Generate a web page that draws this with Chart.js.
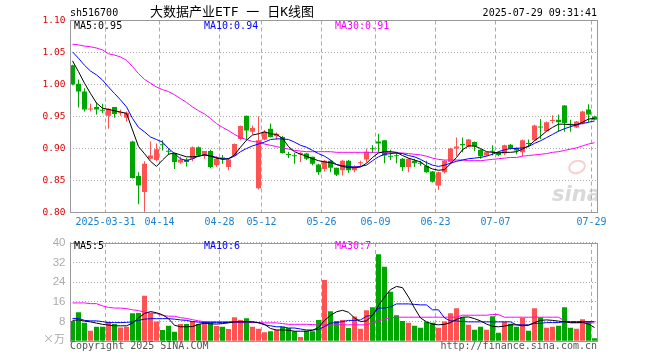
<!DOCTYPE html>
<html>
<head>
<meta charset="utf-8">
<script src="https://cdn.jsdelivr.net/npm/chart.js@4/dist/chart.umd.min.js"></script>
<style>
html, body { margin: 0; padding: 0; background: #fff; }
#wrap { position: relative; width: 660px; height: 360px; }
#kChart { position: absolute; left: 0; top: 0; }
#volChart { position: absolute; left: 0; top: 232px; }
</style>
</head>
<body>
<div id="wrap">
    <canvas id="kChart" width="660" height="232"></canvas>
    <canvas id="volChart" width="660" height="128"></canvas>
</div>
<script>
// ================= DATA =================
const year = "2025";
const dates = [
    "03-21","03-24","03-25","03-26","03-27","03-28","03-31",
    "04-01","04-02","04-03","04-07","04-08","04-09","04-10","04-11","04-14","04-15","04-16","04-17","04-18",
    "04-21","04-22","04-23","04-24","04-25","04-28","04-29","04-30",
    "05-06","05-07","05-08","05-09","05-12","05-13","05-14","05-15","05-16","05-19","05-20","05-21","05-22","05-23",
    "05-26","05-27","05-28","05-29","05-30",
    "06-03","06-04","06-05","06-06","06-09","06-10","06-11","06-12","06-13","06-16","06-17","06-18","06-19","06-20",
    "06-23","06-24","06-25","06-26","06-27","06-30",
    "07-01","07-02","07-03","07-04","07-07","07-08","07-09","07-10","07-11","07-14","07-15","07-16","07-17","07-18",
    "07-21","07-22","07-23","07-24","07-25","07-28","07-29"
];
const tickDates = ["03-31","04-14","04-28","05-12","05-26","06-09","06-23","07-07","07-29"];
const priceTicks = [0.80, 0.85, 0.90, 0.95, 1.00, 1.05, 1.10];
const volTicks = [0, 8, 16, 24, 32, 40];

const open = [
    1.030,1.001,0.989,0.961,0.965,0.960,0.951,0.965,0.955,0.948,
    0.911,0.857,0.832,0.884,0.882,0.906,0.896,0.892,0.878,0.883,
    0.884,0.902,0.890,0.896,0.874,0.886,0.871,0.889,0.915,0.951,
    0.926,0.838,0.914,0.931,0.919,0.918,0.891,0.889,0.891,0.892,
    0.887,0.875,0.868,0.881,0.870,0.866,0.881,0.866,0.877,0.883,
    0.900,0.911,0.913,0.888,0.889,0.884,0.871,0.881,0.877,0.873,
    0.864,0.842,0.863,0.879,0.900,0.907,0.903,0.910,0.898,0.889,
    0.896,0.894,0.892,0.906,0.901,0.894,0.908,0.913,0.934,0.927,
    0.943,0.945,0.967,0.938,0.933,0.940,0.961,0.950
];
const high = [
    1.031,1.008,0.994,0.970,0.972,0.970,0.963,0.965,0.961,0.958,
    0.912,0.863,0.880,0.911,0.908,0.913,0.900,0.893,0.887,0.885,
    0.903,0.903,0.896,0.898,0.888,0.890,0.884,0.908,0.936,0.951,
    0.936,0.950,0.929,0.939,0.925,0.920,0.895,0.893,0.895,0.893,
    0.887,0.876,0.882,0.882,0.870,0.882,0.882,0.874,0.881,0.900,
    0.905,0.923,0.913,0.898,0.893,0.885,0.885,0.884,0.881,0.881,
    0.865,0.864,0.882,0.901,0.917,0.917,0.915,0.911,0.899,0.895,
    0.905,0.895,0.906,0.907,0.902,0.914,0.914,0.937,0.946,0.942,
    0.952,0.953,0.968,0.945,0.943,0.959,0.969,0.951
];
const low = [
    0.999,0.964,0.958,0.958,0.953,0.955,0.931,0.948,0.951,0.942,
    0.853,0.813,0.801,0.883,0.880,0.897,0.890,0.868,0.876,0.872,
    0.880,0.887,0.884,0.869,0.871,0.876,0.866,0.888,0.913,0.913,
    0.922,0.836,0.913,0.917,0.914,0.892,0.885,0.876,0.879,0.882,
    0.874,0.859,0.864,0.863,0.857,0.858,0.862,0.863,0.872,0.878,
    0.893,0.894,0.877,0.882,0.877,0.865,0.863,0.871,0.873,0.862,
    0.847,0.835,0.861,0.877,0.888,0.894,0.902,0.896,0.884,0.888,
    0.889,0.888,0.890,0.898,0.891,0.888,0.902,0.912,0.915,0.926,
    0.939,0.926,0.926,0.926,0.932,0.938,0.941,0.944
];
const close = [
    1.000,0.989,0.961,0.962,0.961,0.959,0.962,0.954,0.956,0.956,
    0.854,0.842,0.876,0.889,0.899,0.905,0.895,0.879,0.883,0.879,
    0.902,0.889,0.896,0.871,0.884,0.884,0.883,0.907,0.935,0.928,
    0.932,0.913,0.926,0.918,0.923,0.893,0.890,0.888,0.893,0.884,
    0.876,0.863,0.881,0.870,0.859,0.881,0.866,0.872,0.878,0.895,
    0.899,0.908,0.889,0.887,0.888,0.871,0.884,0.877,0.876,0.863,
    0.848,0.863,0.881,0.900,0.903,0.905,0.914,0.903,0.888,0.894,
    0.895,0.890,0.905,0.900,0.897,0.913,0.907,0.936,0.933,0.941,
    0.944,0.941,0.940,0.937,0.942,0.958,0.953,0.945
];

const ma5 = [
    1.037,1.020,1.002,0.986,0.971,0.963,0.961,0.959,0.957,0.955,
    0.929,0.903,0.892,0.880,0.872,0.882,0.891,0.893,0.890,0.887,
    0.887,0.888,0.890,0.888,0.885,0.883,0.884,0.890,0.902,0.913,
    0.921,0.923,0.926,0.923,0.922,0.916,0.903,0.895,0.891,0.888,
    0.884,0.881,0.879,0.878,0.875,0.872,0.870,0.870,0.871,0.877,
    0.886,0.893,0.895,0.895,0.894,0.889,0.885,0.882,0.879,0.872,
    0.868,0.866,0.867,0.876,0.886,0.898,0.904,0.904,0.900,0.895,
    0.894,0.893,0.894,0.894,0.895,0.899,0.904,0.912,0.919,0.927,
    0.933,0.938,0.938,0.937,0.937,0.941,0.946,0.947
];
const ma10 = [
    1.051,1.041,1.030,1.021,1.015,1.007,0.996,0.986,0.976,0.965,
    0.947,0.933,0.926,0.918,0.914,0.910,0.900,0.892,0.884,0.881,
    0.884,0.888,0.890,0.889,0.886,0.884,0.884,0.888,0.895,0.900,
    0.904,0.907,0.910,0.914,0.915,0.915,0.914,0.910,0.905,0.902,
    0.897,0.892,0.888,0.882,0.875,0.873,0.872,0.871,0.872,0.874,
    0.881,0.887,0.891,0.892,0.893,0.892,0.889,0.887,0.883,0.878,
    0.874,0.872,0.874,0.877,0.880,0.882,0.884,0.885,0.886,0.888,
    0.891,0.895,0.898,0.900,0.900,0.901,0.903,0.908,0.912,0.917,
    0.922,0.927,0.931,0.934,0.937,0.939,0.941,0.943
];
const ma30 = [
    1.063,1.062,1.060,1.059,1.057,1.054,1.048,1.046,1.043,1.038,
    1.028,1.017,1.008,1.002,0.996,0.992,0.989,0.984,0.978,0.972,
    0.965,0.959,0.954,0.947,0.939,0.933,0.928,0.922,0.917,0.914,
    0.911,0.910,0.907,0.905,0.903,0.901,0.899,0.897,0.896,0.895,
    0.895,0.895,0.895,0.895,0.894,0.894,0.894,0.894,0.894,0.894,
    0.894,0.894,0.894,0.893,0.893,0.893,0.892,0.891,0.890,0.888,
    0.885,0.883,0.882,0.882,0.882,0.882,0.881,0.881,0.881,0.882,
    0.883,0.884,0.885,0.886,0.886,0.888,0.889,0.890,0.891,0.892,
    0.894,0.895,0.897,0.899,0.901,0.904,0.907,0.909
];

const volume = [
    8.3,11.8,7.5,4.3,5.9,5.9,7.9,7.0,5.6,5.9,
    11.4,11.5,18.5,11.5,8.0,4.6,6.3,3.9,7.0,7.0,
    8.3,7.0,8.3,7.6,6.2,5.9,5.0,9.8,8.7,9.4,
    5.9,5.1,3.7,4.1,4.6,5.9,5.4,4.1,1.7,4.3,
    4.1,8.7,24.9,12.2,8.3,8.7,5.4,10.1,5.1,12.6,
    13.8,35.4,30.3,20.1,10.6,8.3,7.5,6.3,5.5,7.9,
    7.5,5.5,8.0,11.4,13.4,9.8,6.7,4.7,5.9,4.7,
    10.2,3.5,7.9,7.1,5.9,9.6,4.3,13.4,9.8,5.5,
    5.9,6.3,13.8,5.5,5.1,9.0,8.3,1.2
];
const volMa5 = [
    8.5,8.7,8.2,7.9,7.4,6.9,6.6,6.3,6.3,6.3,
    7.4,9.5,11.3,12.1,11.6,10.8,9.2,6.5,5.9,5.9,
    6.0,6.9,7.3,7.1,7.0,7.2,7.5,7.9,7.9,7.9,
    7.9,7.6,6.9,5.2,4.6,4.6,4.5,4.1,4.1,4.1,
    4.5,5.6,8.5,10.5,12.0,12.6,11.8,9.5,8.0,8.3,
    10.5,14.5,18.0,21.0,22.3,21.8,18.0,13.5,9.5,7.9,
    7.0,6.7,6.9,7.6,8.9,9.8,9.9,9.2,8.3,7.0,
    6.1,5.9,6.2,6.7,6.7,6.3,6.5,7.6,8.5,8.7,
    8.5,8.2,7.9,7.6,7.6,7.7,7.0,5.6
];
const volMa10 = [
    9.3,9.3,8.5,8.3,8.3,8.0,7.6,7.6,7.6,7.7,
    7.9,8.5,9.0,9.2,9.2,9.2,9.2,9.0,8.7,8.5,
    8.0,7.8,7.6,7.6,7.6,7.6,7.7,7.9,7.9,7.9,
    7.9,7.5,6.7,6.3,5.9,5.9,5.4,5.4,5.0,4.6,
    4.6,4.8,6.0,7.4,7.6,8.0,8.5,8.5,8.7,10.2,
    10.5,13.5,13.5,14.0,15.2,15.2,15.2,15.0,14.8,14.8,
    12.8,12.8,9.5,8.3,8.3,8.0,7.9,7.9,7.9,7.9,
    7.9,7.9,7.9,7.9,6.7,6.7,6.7,7.3,7.3,7.6,
    7.6,7.6,8.0,8.0,8.0,8.0,8.0,8.0
];
const volMa30 = [
    15.6,15.6,15.6,15.3,15.3,14.4,13.8,13.5,13.5,13.3,
    12.8,12.5,11.8,11.5,11.3,10.5,10.2,10.2,9.6,9.3,
    8.8,8.3,8.0,8.0,8.0,8.0,8.0,7.8,7.6,7.6,
    7.6,7.6,7.5,7.5,7.5,7.2,6.9,6.9,6.9,6.9,
    6.8,6.6,6.6,6.6,6.7,6.7,6.7,6.7,6.7,6.7,
    7.5,8.3,9.0,9.6,9.8,9.8,9.8,9.8,9.8,9.8,
    9.8,9.8,9.8,9.8,9.8,10.6,10.6,10.6,10.6,10.6,
    10.9,10.9,9.8,9.8,9.8,9.8,9.8,9.8,9.8,9.8,
    9.8,9.8,8.3,7.5,7.5,7.5,7.5,7.5
];

// ================= STYLE =================
const RED = "#ff5252";
const GREEN = "#00a600";
const MA_COLORS = ["#000000", "#0000ff", "#ff00ff"];
const MONO = "'DejaVu Sans Mono', monospace";
const GRID = "#aaaaaa";

const candleColors = open.map((o, i) => (close[i] >= o ? RED : GREEN));

function dateGridColor(ctx) {
    return tickDates.includes(dates[ctx.index]) ? GRID : "rgba(0,0,0,0)";
}

function maLine(label, data, color) {
    return {
        type: "line",
        label: label,
        data: data,
        borderColor: color,
        borderWidth: 1,
        pointRadius: 0,
        tension: 0,
        order: 0
    };
}

function drawFrame(chart) {
    const { ctx, chartArea: a } = chart;
    ctx.save();
    ctx.strokeStyle = "#999";
    ctx.lineWidth = 1;
    const l = Math.ceil(a.left) + 0.5;
    const t = Math.round(a.top - 0.01) + 0.5;
    const r = Math.floor(a.right) + 0.5;
    const b = Math.floor(a.bottom) + 0.5;
    ctx.strokeRect(l, t, r - l, b - t);
    ctx.restore();
}

function drawLegend(ctx, y, texts) {
    const xs = [74, 204, 335];
    ctx.font = "10px " + MONO;
    ctx.textBaseline = "middle";
    ctx.textAlign = "left";
    texts.forEach((t, i) => {
        ctx.fillStyle = MA_COLORS[i];
        ctx.fillText(t, xs[i], y);
    });
}

// ================= K-LINE CHART =================
const mainDecor = {
    id: "mainDecor",
    beforeDatasetsDraw(chart) {
        // faint sina watermark
        const { ctx, chartArea: a } = chart;
        ctx.save();
        ctx.beginPath();
        ctx.rect(a.left, a.top, a.right - a.left, a.bottom - a.top);
        ctx.clip();
        ctx.strokeStyle = "rgba(235,120,120,0.35)";
        ctx.lineWidth = 2;
        ctx.beginPath();
        ctx.ellipse(577, 167, 8, 6, -0.3, 0, Math.PI * 2);
        ctx.stroke();
        ctx.font = "italic bold 21px 'DejaVu Sans'";
        ctx.fillStyle = "rgba(185,185,185,0.55)";
        ctx.fillText("sina", 552, 201);
        ctx.restore();
    },
    afterDraw(chart) {
        const ctx = chart.ctx;
        drawFrame(chart);
        ctx.save();
        ctx.fillStyle = "#000";
        ctx.textBaseline = "middle";
        ctx.font = "10px " + MONO;
        ctx.fillText("sh516700", 70, 13);
        ctx.font = "13px 'DejaVu Sans Mono', 'Noto Sans CJK SC'";
        ctx.fillText("大数据产业ETF 一 日K线图", 150, 13);
        ctx.font = "10px " + MONO;
        ctx.textAlign = "right";
        ctx.fillText("2025-07-29 09:31:41", 597, 13);
        drawLegend(ctx, 26, ["MA5:0.95", "MA10:0.94", "MA30:0.91"]);
        ctx.restore();
    }
};

new Chart(document.getElementById("kChart"), {
    type: "bar",
    data: {
        labels: dates,
        datasets: [
            maLine("MA5", ma5, MA_COLORS[0]),
            maLine("MA10", ma10, MA_COLORS[1]),
            maLine("MA30", ma30, MA_COLORS[2]),
            {
                label: "body",
                data: open.map((o, i) => [o, close[i]]),
                backgroundColor: candleColors,
                barThickness: 5,
                minBarLength: 1,
                inflateAmount: 0,
                grouped: false,
                order: 1
            },
            {
                label: "wick",
                data: low.map((l, i) => [l, high[i]]),
                backgroundColor: candleColors,
                barThickness: 1,
                inflateAmount: 0,
                grouped: false,
                order: 2
            }
        ]
    },
    options: {
        responsive: false,
        animation: false,
        events: [],
        layout: { padding: { top: 20.5, right: 62.5, left: 0, bottom: 0 } },
        plugins: { legend: { display: false }, tooltip: { enabled: false } },
        scales: {
            x: {
                offset: true,
                grid: { offset: true, color: dateGridColor, drawTicks: false },
                border: { display: false, dash: [4, 3] },
                ticks: {
                    autoSkip: false,
                    maxRotation: 0,
                    minRotation: 0,
                    padding: 4,
                    labelOffset: -3,
                    color: "#1a82d2",
                    font: { family: MONO, size: 10 },
                    callback: function (value, index) {
                        const d = dates[index];
                        if (!tickDates.includes(d)) return "";
                        return d === tickDates[0] ? year + "-" + d : d;
                    }
                },
                afterFit: (s) => { s.height = 19.5; }
            },
            y: {
                min: priceTicks[0],
                max: priceTicks[priceTicks.length - 1],
                afterBuildTicks: (s) => { s.ticks = priceTicks.map((v) => ({ value: v })); },
                grid: { color: GRID, drawTicks: false },
                border: { display: false, dash: [1, 2] },
                ticks: {
                    padding: 4,
                    color: "#e00000",
                    font: { family: MONO, size: 9.5 },
                    callback: (v) => Number(v).toFixed(2)
                },
                afterFit: (s) => { s.width = 69.5; }
            }
        }
    },
    plugins: [mainDecor]
});

// ================= VOLUME CHART =================
const volDecor = {
    id: "volDecor",
    afterDraw(chart) {
        const ctx = chart.ctx;
        drawFrame(chart);
        ctx.save();
        drawLegend(ctx, 14, ["MA5:5", "MA10:6", "MA30:7"]);
        ctx.fillStyle = "#aaa";
        ctx.textAlign = "right";
        ctx.font = "11px 'Noto Sans CJK SC'";
        ctx.fillText("×万", 65, 107);
        ctx.fillStyle = "#555";
        ctx.font = "10px " + MONO;
        ctx.textAlign = "left";
        ctx.fillText("Copyright 2025 SINA.COM", 70, 114);
        ctx.textAlign = "right";
        ctx.fillText("http://finance.sina.com.cn", 597, 114);
        ctx.restore();
    }
};

new Chart(document.getElementById("volChart"), {
    type: "bar",
    data: {
        labels: dates,
        datasets: [
            maLine("MA5", volMa5, MA_COLORS[0]),
            maLine("MA10", volMa10, MA_COLORS[1]),
            maLine("MA30", volMa30, MA_COLORS[2]),
            {
                label: "volume",
                data: volume,
                backgroundColor: candleColors,
                barThickness: 5,
                inflateAmount: 0,
                grouped: false,
                order: 1
            }
        ]
    },
    options: {
        responsive: false,
        animation: false,
        events: [],
        layout: { padding: { top: 7.7, right: 62.5, left: 0, bottom: 0 } },
        plugins: { legend: { display: false }, tooltip: { enabled: false } },
        scales: {
            x: {
                offset: true,
                grid: { offset: true, color: dateGridColor, drawTicks: false },
                border: { display: false, dash: [4, 3] },
                ticks: { display: false },
                afterFit: (s) => { s.height = 18.7; }
            },
            y: {
                min: volTicks[0],
                max: volTicks[volTicks.length - 1],
                afterBuildTicks: (s) => { s.ticks = volTicks.map((v) => ({ value: v })); },
                grid: { color: GRID, drawTicks: false },
                border: { display: false, dash: [1, 2] },
                ticks: {
                    padding: 4,
                    color: "#aaaaaa",
                    font: { family: "'Liberation Sans', sans-serif", size: 11.5 },
                    callback: (v) => (v === 0 ? "" : String(v))
                },
                afterFit: (s) => { s.width = 69.5; }
            }
        }
    },
    plugins: [volDecor]
});
</script>
</body>
</html>
